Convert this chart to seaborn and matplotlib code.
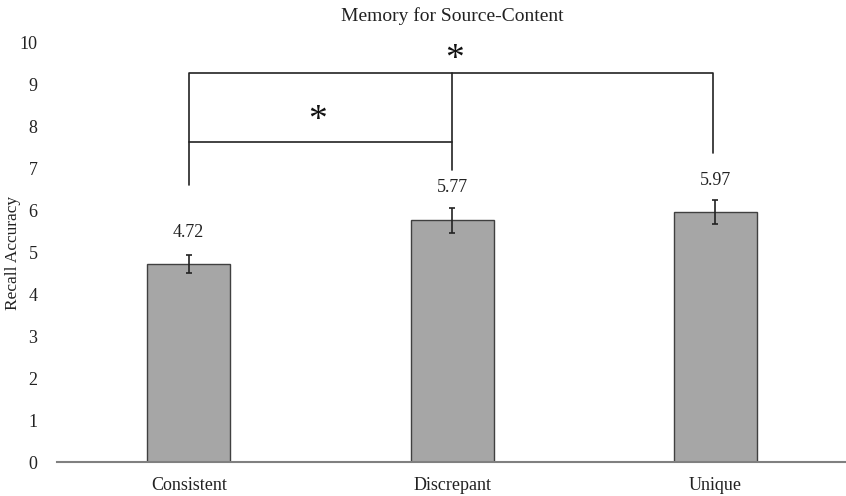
import matplotlib
matplotlib.use("Agg")
import matplotlib.pyplot as plt
import seaborn as sns
import pandas as pd

categories = ["Consistent", "Discrepant", "Unique"]
means = [4.72, 5.77, 5.97]
errors = [0.22, 0.30, 0.29]
value_labels = ["4.72", "5.77", "5.97"]
yticks = list(range(0, 11))

sns.set_theme(style="white")
plt.rcParams['font.family'] = ['Liberation Serif', 'DejaVu Serif']

df = pd.DataFrame({"cond": categories, "acc": means})

fig = plt.figure(figsize=(8.46, 4.96), dpi=100)
ax = fig.add_axes([0.0674, 0.0685, 0.934, 0.845])

sns.barplot(data=df, x="cond", y="acc", order=categories, color="#A6A6A6",
            edgecolor="#404040", linewidth=1.0, width=0.315, errorbar=None,
            saturation=1, ax=ax)
ax.errorbar(range(len(categories)), means, yerr=errors, fmt="none",
            ecolor="#222222", elinewidth=1.2, capsize=2.5, capthick=1.2)

for i, (m, lab) in enumerate(zip(means, value_labels)):
    ax.text(i, m + [0.75, 0.79, 0.74][i], lab, ha="center", va="center",
            fontsize=13, color="#222222")

# significance brackets
lc = "#222222"
ax.plot([0, 0, 1.99, 1.99], [6.61, 9.28, 9.28, 7.37], color=lc, lw=1.2, clip_on=False)
ax.plot([1, 1], [9.28, 6.97], color=lc, lw=1.2)
ax.plot([0, 1], [7.64, 7.64], color=lc, lw=1.2)
ax.text(0.49, 8.15, "*", ha="center", va="center", fontsize=27, color="#111111")
ax.text(1.01, 9.6, "*", ha="center", va="center", fontsize=27, color="#111111", clip_on=False)

ax.set_xlim(-0.5, 2.5)
ax.set_ylim(0, 10)
ax.set_yticks(yticks)
ax.set_yticklabels([str(t) for t in yticks], fontsize=13, color="#222222")
ax.tick_params(axis="x", labelsize=13, colors="#222222", pad=11, length=0)
ax.tick_params(axis="y", length=0, pad=14)
ax.set_xlabel("")
ax.set_ylabel("Recall Accuracy", fontsize=12.5, color="#222222")
ax.yaxis.set_label_coords(-0.045, 0.5)
ax.set_title("Memory for Source-Content", fontsize=14, color="#222222", pad=16)

for s in ["top", "right", "left"]:
    ax.spines[s].set_visible(False)
ax.spines["bottom"].set_color("#808080")
ax.spines["bottom"].set_linewidth(1.5)

fig.savefig("out.png", dpi=100)
